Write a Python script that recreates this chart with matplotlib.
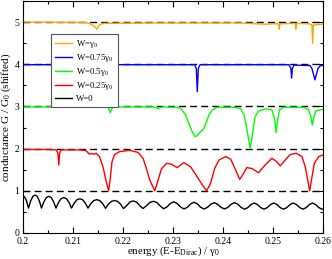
import matplotlib
matplotlib.use("Agg")
import matplotlib.pyplot as plt
from matplotlib.ticker import MultipleLocator

plt.rcParams['font.family'] = ['Liberation Serif', 'DejaVu Serif']
plt.rcParams['mathtext.fontset'] = 'custom'
plt.rcParams['mathtext.rm'] = 'Liberation Serif'
plt.rcParams['mathtext.it'] = 'Liberation Serif:italic'

# ---------------- data ----------------
w0_x = [0.2000, 0.2004, 0.2007,
        0.2011, 0.20153, 0.20197, 0.2024, 0.20283, 0.20327,
        0.2037, 0.20418, 0.20467, 0.20515, 0.20563, 0.20612,
        0.2066, 0.20712, 0.20763, 0.20815, 0.20867, 0.20918,
        0.2097, 0.21025, 0.2108, 0.21135, 0.2119, 0.21245,
        0.2130, 0.21358, 0.21417, 0.21475, 0.21533, 0.21592,
        0.2165, 0.2171, 0.2177, 0.2183, 0.2189, 0.2195,
        0.2201, 0.22075, 0.2214, 0.22205, 0.2227, 0.22335,
        0.2240, 0.22468, 0.22537, 0.22605, 0.22673, 0.22742,
        0.2281, 0.22878, 0.22947, 0.23015, 0.23083, 0.23152,
        0.2322, 0.23287, 0.23353, 0.2342, 0.23487, 0.23553,
        0.2362, 0.23688, 0.23757, 0.23825, 0.23893, 0.23962,
        0.2403, 0.24097, 0.24163, 0.2423, 0.24297, 0.24363,
        0.2443, 0.24495, 0.2456, 0.24625, 0.2469, 0.24755,
        0.2482, 0.24885, 0.2495, 0.25015, 0.2508, 0.25145,
        0.2521, 0.25275, 0.2534, 0.25405, 0.2547, 0.25535,
        0.2560, 0.25663, 0.25727, 0.2579, 0.25853, 0.25917,
        0.2598, 0.2600]
w0_y = [0.89, 0.84, 0.76,
        0.59, 0.76, 0.87, 0.90, 0.87, 0.76,
        0.59, 0.74, 0.84, 0.87, 0.84, 0.74,
        0.59, 0.73, 0.815, 0.84, 0.815, 0.73,
        0.59, 0.71, 0.79, 0.81, 0.79, 0.71,
        0.59, 0.70, 0.77, 0.79, 0.77, 0.70,
        0.585, 0.685, 0.75, 0.77, 0.75, 0.685,
        0.58, 0.65, 0.735, 0.76, 0.735, 0.65,
        0.58, 0.645, 0.725, 0.75, 0.725, 0.645,
        0.575, 0.616, 0.699, 0.74, 0.699, 0.616,
        0.57, 0.61, 0.69, 0.73, 0.69, 0.61,
        0.57, 0.607, 0.682, 0.72, 0.682, 0.607,
        0.57, 0.607, 0.682, 0.72, 0.682, 0.607,
        0.565, 0.601, 0.674, 0.71, 0.674, 0.601,
        0.565, 0.601, 0.674, 0.71, 0.674, 0.601,
        0.565, 0.601, 0.674, 0.71, 0.674, 0.601,
        0.565, 0.601, 0.674, 0.71, 0.674, 0.601,
        0.565, 0.57]

w025_x = [0.2000, 0.20542, 0.20662, 0.20698, 0.20716, 0.20734, 0.20763,
          0.21144, 0.21264, 0.21325, 0.21365, 0.21425, 0.21465, 0.21531,
          0.21599, 0.21666, 0.21712, 0.21746, 0.21780, 0.21832, 0.21933,
          0.22133, 0.22302, 0.22402, 0.22468, 0.22535, 0.22635, 0.22703,
          0.22769, 0.22870, 0.22970, 0.23085, 0.23217, 0.23351, 0.23486,
          0.23586, 0.23672, 0.23753, 0.23833, 0.23919, 0.24054, 0.24154,
          0.24254, 0.24335, 0.24409, 0.24475, 0.24576, 0.24710, 0.24842,
          0.24977, 0.25077, 0.25144, 0.25244, 0.25344, 0.25465, 0.25579,
          0.25645, 0.25699, 0.25734, 0.25780, 0.25826, 0.25914, 0.2600]
w025_y = [1.98, 1.98, 1.97, 1.90, 1.61, 1.90, 1.97,
          1.97, 1.95, 1.87, 1.88, 1.87, 1.89, 1.81,
          1.57, 1.21, 1.00, 1.30, 1.69, 1.86, 1.93,
          1.96, 1.91, 1.77, 1.53, 1.26, 1.00, 1.26,
          1.52, 1.65, 1.63, 1.55, 1.67, 1.57, 1.33,
          1.14, 1.00, 1.18, 1.53, 1.73, 1.81, 1.75,
          1.49, 1.27, 1.41, 1.55, 1.53, 1.43, 1.61,
          1.77, 1.69, 1.59, 1.73, 1.86, 1.89, 1.81,
          1.57, 1.22, 1.00, 1.33, 1.65, 1.81, 1.85]

w05_x = [0.2000, 0.21646, 0.21706, 0.21746, 0.21786, 0.21846,
         0.22609, 0.22669, 0.22703, 0.22739, 0.22789,
         0.23050, 0.23151, 0.23251, 0.23317, 0.23385, 0.23438, 0.23472,
         0.23518, 0.23618, 0.23672, 0.23719, 0.23787, 0.23887,
         0.24220, 0.24315, 0.24355, 0.24421, 0.24475, 0.24509, 0.24541,
         0.24575, 0.24609, 0.24642, 0.24710, 0.24842, 0.24977, 0.25031,
         0.25063, 0.25097, 0.25131, 0.25211, 0.25613, 0.25713, 0.25759,
         0.25785, 0.25813, 0.25853, 0.25946, 0.2600]
w05_y = [2.99, 2.99, 2.97, 2.85, 2.97, 2.99,
         2.99, 2.97, 2.94, 2.97, 2.99,
         2.98, 2.96, 2.80, 2.60, 2.40, 2.29, 2.30,
         2.36, 2.48, 2.64, 2.80, 2.92, 2.98,
         2.98, 2.96, 2.94, 2.80, 2.48, 2.24, 2.02,
         2.20, 2.52, 2.76, 2.89, 2.94, 2.92, 2.72,
         2.38, 2.70, 2.92, 2.98, 2.98, 2.92, 2.76,
         2.56, 2.72, 2.89, 2.92, 2.93]

w075_x = [0.2000, 0.23431, 0.23466, 0.23486, 0.23506, 0.23542,
          0.25318, 0.25358, 0.25372, 0.25388, 0.25418,
          0.25739, 0.25779, 0.25819, 0.25839, 0.25859, 0.25900, 0.25940, 0.2600]
w075_y = [3.99, 3.99, 3.90, 3.35, 3.90, 3.99,
          3.99, 3.90, 3.67, 3.90, 3.98,
          3.97, 3.90, 3.72, 3.63, 3.72, 3.90, 3.96, 3.98]

w1_x = [0.2000, 0.21244, 0.21345, 0.21425, 0.21479, 0.21505, 0.21545, 0.21625,
        0.22549, 0.24355, 0.24656, 0.24856, 0.24997, 0.25107, 0.25123, 0.25137,
        0.25442, 0.25458, 0.25474, 0.25719, 0.25779, 0.25793, 0.25807, 0.25880, 0.2600]
w1_y = [5.00, 4.99, 4.96, 4.90, 4.83, 4.90, 4.95, 4.97,
        4.98, 4.98, 4.96, 4.95, 4.96, 4.96, 4.83, 4.96,
        4.97, 4.83, 4.97, 4.96, 4.93, 4.50, 4.93, 4.94, 4.95]

reference_levels = [1, 2, 3, 4, 5]
labels = ['W=γ$_0$', 'W=0.75γ$_0$', 'W=0.5γ$_0$', 'W=0.25γ$_0$', 'W=0']
colors = ['#FFA500', '#0000FF', '#00FF00', '#FF0000', '#000000']
xticks = [0.2, 0.21, 0.22, 0.23, 0.24, 0.25, 0.26]
xticklabels = ['0.2', '0.21', '0.22', '0.23', '0.24', '0.25', '0.26']
yticks = [0, 1, 2, 3, 4, 5]

# ---------------- figure ----------------
fig = plt.figure(figsize=(3.32, 2.59), dpi=100)
ax = fig.add_axes([23 / 332, 26 / 259, 300 / 332, 232 / 259])

for lv in reference_levels:
    ax.axhline(lv, color='black', lw=1.0, dashes=(5, 3), zorder=1)

series = [(w1_x, w1_y), (w075_x, w075_y), (w05_x, w05_y), (w025_x, w025_y), (w0_x, w0_y)]
for (sx, sy), lab, col in zip(series, labels, colors):
    ax.plot(sx, sy, color=col, lw=1.0, label=lab, zorder=2)

ax.set_xlim(0.2, 0.26)
ax.set_ylim(0, 5.5)
ax.set_xticks(xticks)
ax.set_xticklabels(xticklabels)
ax.set_yticks(yticks)
ax.xaxis.set_minor_locator(MultipleLocator(0.005))
ax.yaxis.set_minor_locator(MultipleLocator(0.5))
ax.tick_params(which='both', direction='in', top=True, right=True, labelsize=7)
ax.tick_params(axis='x', pad=2.6)
ax.tick_params(axis='y', pad=2.5)
ax.tick_params(which='major', length=4, width=0.8)
ax.tick_params(which='minor', length=2, width=0.8)
for sp in ax.spines.values():
    sp.set_linewidth(0.8)

ax.set_xlabel('energy (E-E$_{\\mathrm{Dirac}}$) / γ$_0$', fontsize=7.8, labelpad=-0.6)
ax.set_ylabel('conductance G / G$_0$ (shifted)', fontsize=8, labelpad=1)

leg = ax.legend(loc='upper left', bbox_to_anchor=(0.092, 0.858), borderaxespad=0,
                fontsize=6.3, frameon=True, fancybox=False, framealpha=1,
                edgecolor='#555555', handlelength=2.0, handletextpad=0.5,
                labelspacing=0.25, borderpad=0.45)
leg.get_frame().set_linewidth(0.8)
leg.set_zorder(5)

fig.savefig('out.png', dpi=100)
